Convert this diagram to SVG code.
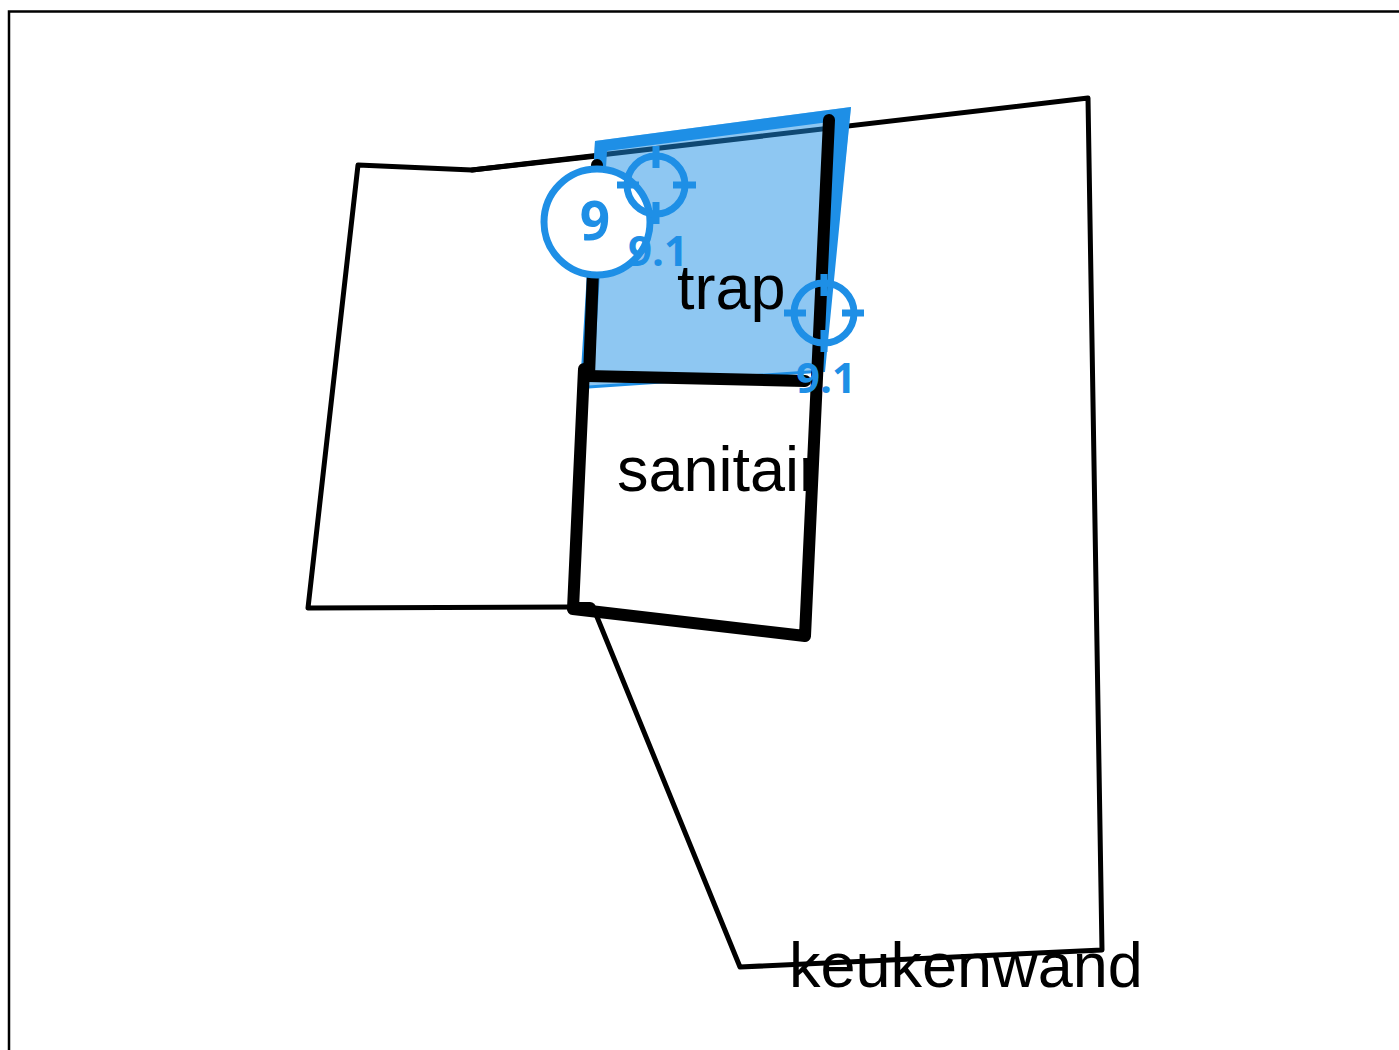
<svg xmlns="http://www.w3.org/2000/svg" width="1399" height="1050" viewBox="0 0 1399 1050">
<style>
.thin{fill:none;stroke:#000;stroke-width:5;stroke-linejoin:round;stroke-linecap:round}
.thick{fill:none;stroke:#000;stroke-width:12;stroke-linecap:round;stroke-linejoin:round}
.ring{fill:none;stroke:#1e8fe6;stroke-width:7}
.lbl{font-family:"Liberation Sans",Arial,sans-serif;font-size:63px;fill:#000}
.num{font-family:"Open Sans","Noto Sans",sans-serif;font-weight:700;fill:#1e8fe6;text-anchor:middle}
.tick{stroke:#1e8fe6;stroke-width:7;fill:none}
</style>
<rect width="1399" height="1050" fill="#fff"/>
<path d="M9 1050V11.500H1399" fill="none" stroke="#000" stroke-width="2.500"/>
<g id="connectors">
<path class="thin" d="M597 156L472 170L358 165L308 608L572 607"/>
<path class="thin" d="M472 170L1088 98L1102 950L740 967L595 612"/>
</g>
<g id="trap-area">
<path d="M595 141L851 107L823 372L582 387Z" fill="#1e8fe6" fill-opacity=".5"/>
<path d="M595 141L851 107L825 372L815 372L829 122L607 151L594 375L580 387Z" fill="#1e8fe6"/>
<path d="M581 387.500L823 371" fill="none" stroke="#1e8fe6" stroke-width="3"/>
</g>
<g id="walls">
<path class="thick" d="M597 165L589 376"/>
<path class="thick" d="M584 369L573 609L805 636L829 120"/>
<path class="thick" d="M587 376L805 381"/>
<path class="thick" d="M573 608H590"/>
</g>
<g id="label-trap"><text class="lbl" x="677" y="309">trap</text></g>
<g id="label-sanitair"><text class="lbl" x="617" y="491">sanitair</text></g>
<g id="label-keukenwand"><text class="lbl" x="789" y="987">keukenwand</text></g>
<g id="marker-9">
<circle cx="597" cy="222" r="53" fill="#fff" stroke="#1e8fe6" stroke-width="7"/>
<text class="num" x="595" y="240" font-size="53">9</text>
</g>
<g id="target-1">
<circle cx="656" cy="185" r="29" class="ring"/>
<path class="tick" d="M656 146V168M656 202V224M617 185H639M673 185H696"/>
<text class="num" x="658" y="266" font-size="42">9.1</text>
</g>
<g id="target-2">
<circle cx="824" cy="313" r="30" class="ring"/>
<path class="tick" d="M824 274V296M824 330V352M784 313H806M842 313H864"/>
<text class="num" x="826" y="393" font-size="42">9.1</text>
</g>
</svg>
